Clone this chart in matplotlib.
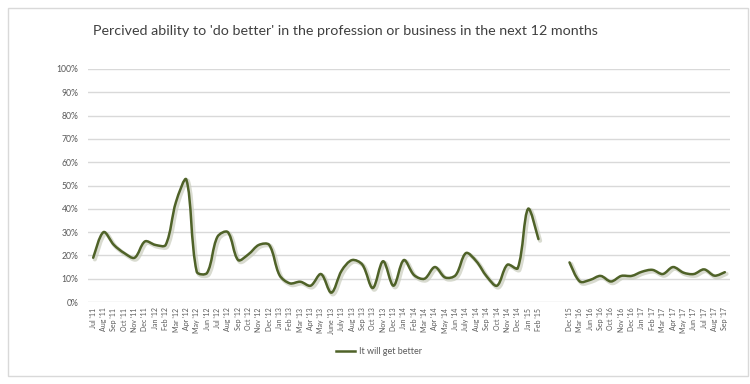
# %% Imports
import matplotlib
matplotlib.use("Agg")
import matplotlib.pyplot as plt
import matplotlib.patheffects as pe
from matplotlib.path import Path
from matplotlib.patches import PathPatch, Rectangle
from matplotlib.lines import Line2D


# %% Data
months_a = ["Jul '11", "Aug '11", "Sep '11", "Oct '11", "Nov '11", "Dec '11",
            "Jan '12", "Feb '12", "Mar '12", "Apr '12", "May '12", "Jun '12",
            "Jul '12", "Aug '12", "Sep '12", "Oct '12", "Nov '12", "Dec '12",
            "Jan '13", "Feb '13", "Mar '13", "Apr '13", "May '13", "June '13",
            "July '13", "Aug '13", "Sep '13", "Oct '13", "Nov '13", "Dec '13",
            "Jan '14", "Feb '14", "Mar '14", "Apr '14", "May '14", "Jun '14",
            "July '14", "Aug '14", "Sep '14", "Oct '14", "Nov '14", "Dec '14",
            "Jan '15", "Feb '15"]
months_gap = ["", ""]
months_b = ["Dec '15", "Mar '16", "Jun '16", "Sep '16", "Oct '16", "Nov '16",
            "Dec '16", "Jan '17", "Feb '17", "Mar '17", "Apr '17", "May '17",
            "Jun '17", "Jul '17", "Aug '17", "Sep '17"]

better_a = [19, 30, 24.5, 21, 19, 26, 24.5, 24.5, 43, 52.5, 13, 12.5,
            28, 30, 18, 20.5, 24.5, 24.5, 11.5, 8, 8.7, 7, 12, 4,
            13.5, 18, 16, 6, 17.5, 7, 18, 11.5, 10, 15, 10.5, 11.5,
            21, 17.5, 11, 7, 16, 14.5, 40, 27]
better_b = [17, 8.8, 9.5, 11.2, 8.8, 11.2, 11.2, 13, 13.8, 12, 15, 12.6,
            12, 14, 11.3, 12.8]

labels = months_a + months_gap + months_b
values = better_a + [None] * len(months_gap) + better_b

title = "Percived ability to 'do better' in the profession or business in the next 12 months"
series_name = "It will get better"
line_color = "#4f6228"
text_color = "#595959"


# %% Smoothed line like the spreadsheet "smoothed line" option
def smooth_path(xs, ys, sx, sy):
    # bezier with tangents scaled by chord length (measured in pixels)
    n = len(xs)

    def dist(i, j):
        return (((xs[j] - xs[i]) * sx) ** 2 + ((ys[j] - ys[i]) * sy) ** 2) ** 0.5

    verts = [(xs[0], ys[0])]
    codes = [Path.MOVETO]
    for i in range(n - 1):
        a = i - 1 if i > 0 else i
        b = i + 2 if i + 2 < n else i + 1
        d1 = dist(i, i + 1)
        # outgoing control from point i
        din = dist(a, i) if a != i else d1
        k1 = d1 / (din + d1) / 1.5
        tx, ty = xs[i + 1] - xs[a], ys[i + 1] - ys[a]
        c1 = (xs[i] + tx * k1 / 2, ys[i] + ty * k1 / 2)
        # incoming control to point i+1
        dout = dist(i + 1, b) if b != i + 1 else d1
        k2 = d1 / (d1 + dout) / 1.5
        tx, ty = xs[b] - xs[i], ys[b] - ys[i]
        c2 = (xs[i + 1] - tx * k2 / 2, ys[i + 1] - ty * k2 / 2)
        verts += [c1, c2, (xs[i + 1], ys[i + 1])]
        codes += [Path.CURVE4] * 3
    return Path(verts, codes)


def split_runs(vals):
    runs, cur = [], []
    for i, v in enumerate(vals):
        if v is None:
            if cur:
                runs.append(cur)
            cur = []
        else:
            cur.append(i)
    if cur:
        runs.append(cur)
    return runs


# %% Plot
plt.rcParams['font.family'] = ['Lato', 'DejaVu Sans']

fig = plt.figure(figsize=(7.5, 3.84), dpi=100)
ax = fig.add_axes([88 / 750, 1 - 302 / 384, (730 - 88) / 750, (302 - 69) / 384])
ax.set_xlim(-0.5, len(labels) - 0.5)
ax.set_ylim(0, 100)

# pixels per data unit, for the smoothing
px_x = (730 - 88) / len(labels)
px_y = (302 - 69) / 100

shadow = [pe.Stroke(offset=(1.2, -1.2), linewidth=3.0, foreground="#c9cdbd", alpha=0.7),
          pe.Normal()]
for run in split_runs(values):
    xs = run
    ys = [values[i] for i in run]
    patch = PathPatch(smooth_path(xs, ys, px_x, px_y), facecolor="none",
                      edgecolor=line_color, lw=1.8, capstyle="round",
                      joinstyle="round", path_effects=shadow)
    ax.add_patch(patch)

ax.set_yticks(range(0, 101, 10))
ax.set_yticklabels([f"{v}%" for v in range(0, 101, 10)])
ax.set_xticks(range(len(labels)))
ax.set_xticklabels(labels, rotation=90)
ax.tick_params(axis="y", length=0, pad=7, labelsize=6.2, labelcolor=text_color)
ax.tick_params(axis="x", length=0, pad=4, labelsize=5, labelcolor=text_color)
ax.grid(True, axis="y", color="#d9d9d9", lw=1)
ax.set_axisbelow(True)
for s in ax.spines.values():
    s.set_visible(False)

fig.text(93 / 750, 1 - 31 / 384, title, fontsize=10.3, color="#404040",
         ha="left", va="center")

handle = Line2D([], [], color=line_color, lw=1.8)
fig.legend([handle], [series_name], loc="center", bbox_to_anchor=(0.505, 1 - 352 / 384),
           frameon=False, fontsize=6.5, labelcolor=text_color, handlelength=2.2,
           handletextpad=0.4)

fig.patches.append(Rectangle((8 / 750, 8 / 384), 740 / 750, 368 / 384,
                             transform=fig.transFigure, fill=False,
                             edgecolor="#d9d9d9", lw=1))

plt.savefig("out.png", dpi=100)
